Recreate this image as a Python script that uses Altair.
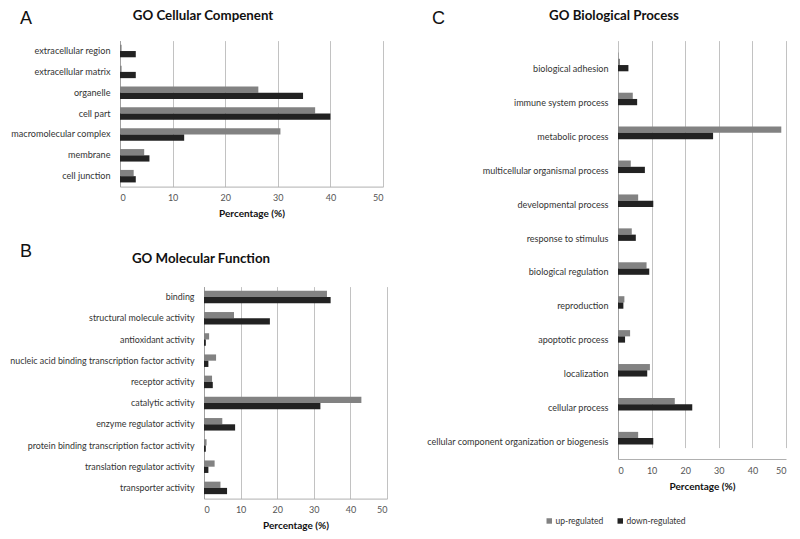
import altair as alt
import pandas as pd

REG = ["up-regulated", "down-regulated"]
COLORS = ["#828282", "#222222"]
TICKS = [0, 10, 20, 30, 40, 50]

cc_terms = ["extracellular region", "extracellular matrix", "organelle", "cell part",
            "macromolecular complex", "membrane", "cell junction"]
cc_up = [0.3, 0.3, 26.3, 37.1, 30.5, 4.6, 2.6]
cc_down = [3.0, 3.0, 34.8, 40.0, 12.2, 5.6, 3.0]

mf_terms = ["binding", "structural molecule activity", "antioxidant activity",
            "nucleic acid binding transcription factor activity", "receptor activity",
            "catalytic activity", "enzyme regulator activity",
            "protein binding transcription factor activity",
            "translation regulator activity", "transporter activity"]
mf_up = [33.6, 8.2, 1.4, 3.3, 2.2, 43.0, 5.0, 0.7, 2.9, 4.5]
mf_down = [34.6, 18.0, 0.5, 1.2, 2.4, 31.8, 8.5, 0.5, 1.2, 6.3]

bp_terms = ["biological adhesion", "immune system process", "metabolic process",
            "multicellular organismal process", "developmental process",
            "response to stimulus", "biological regulation", "reproduction",
            "apoptotic process", "localization", "cellular process",
            "cellular component organization or biogenesis"]
bp_up = [0.6, 4.4, 48.6, 3.8, 6.0, 4.1, 8.5, 1.9, 3.6, 9.5, 16.9, 6.0]
bp_down = [3.1, 5.7, 28.3, 8.0, 10.5, 5.3, 9.3, 1.6, 2.1, 8.7, 22.1, 10.5]

FONT = "Lato"


def txt(s, x, y, size, weight, font, align):
    return alt.Chart(pd.DataFrame({"t": [s]})).mark_text(
        align=align, baseline="middle", fontSize=size, fontWeight=weight,
        font=font, color="#111111"
    ).encode(x=alt.value(x), y=alt.value(y), text="t:N")


def panel(terms, up, down, w, h, label_size, letter, letter_xy, title, title_xy,
          xrange=None, yrange=None, yoffset=0, legend=None):
    df = pd.DataFrame({
        "term": terms * 2,
        "regulation": [REG[0]] * len(terms) + [REG[1]] * len(terms),
        "pct": up + down,
    })
    yscale = dict(paddingInner=0.4, paddingOuter=0.2)
    if yrange:
        yscale["range"] = yrange
    xscale = dict(domain=[0, 50])
    if xrange:
        xscale["range"] = xrange
    bars = alt.Chart(df).mark_bar().encode(
        y=alt.Y("term:N", sort=terms, title=None, scale=alt.Scale(**yscale),
                axis=alt.Axis(labelFontSize=label_size, labelPadding=10,
                              labelLimit=400, ticks=False, grid=False,
                              offset=yoffset,
                              domainColor="#a0a0a0", labelColor="#333333",
                              labelFont=FONT)),
        yOffset=alt.YOffset("regulation:N", sort=REG,
                            scale=alt.Scale(paddingInner=0, paddingOuter=0)),
        x=alt.X("pct:Q", scale=alt.Scale(**xscale),
                axis=alt.Axis(values=TICKS, grid=True, gridColor="#c2c2c2",
                              ticks=False, labelPadding=7, labelFontSize=9,
                              labelColor="#555555", labelFont=FONT,
                              domainColor="#b0b0b0", title="Percentage (%)",
                              titleFont=FONT, titleFontSize=10,
                              titleFontWeight="bold", titleColor="#111111",
                              titlePadding=6)),
        color=alt.Color("regulation:N", sort=REG,
                        scale=alt.Scale(domain=REG, range=COLORS),
                        legend=legend),
    )
    lx, ly = letter_xy
    tx, ty = title_xy
    return alt.layer(
        bars,
        txt(letter, lx, ly, 18, "normal", "Liberation Sans", "left"),
        txt(title, tx, ty, 13.3, "bold", FONT, "center"),
    ).properties(width=w, height=h)


A = panel(cc_terms, cc_up, cc_down, 263, 146, 9.1, "A", (-100, -21.1),
          "GO Cellular Compenent", (83, -24.4))
B = panel(mf_terms, mf_up, mf_down, 267, 212, 8.9, "B", (-100, -35),
          "GO  Molecular Function", (81, -27.5), xrange=[84, 267], yoffset=-84)
legend = alt.Legend(orient="none", legendX=-73, legendY=476, direction="horizontal",
                    title=None, symbolType="square", symbolSize=30,
                    symbolStrokeWidth=0, labelFontSize=8.5, labelFont=FONT,
                    labelColor="#333333", columnPadding=12, labelOffset=2)
C = panel(bp_terms, bp_up, bp_down, 168, 418.4, 9.05, "C", (-186, -21.1),
          "GO Biological Process", (-4, -24.4), yrange=[11.4, 418.4], legend=legend)

left = alt.concat(A, B, columns=1, bounds="flush", spacing=100).resolve_scale(
    color="independent")
chart = alt.concat(left, C, columns=2, bounds="flush", spacing=498).resolve_scale(
    color="independent"
).properties(
    autosize=alt.AutoSizeParams(type="none"),
    padding={"left": 112, "top": 32.6, "right": 672, "bottom": 490.4},
).configure_view(stroke=None)

chart.save("out.html", embed_options={"renderer": "svg", "actions": False})
